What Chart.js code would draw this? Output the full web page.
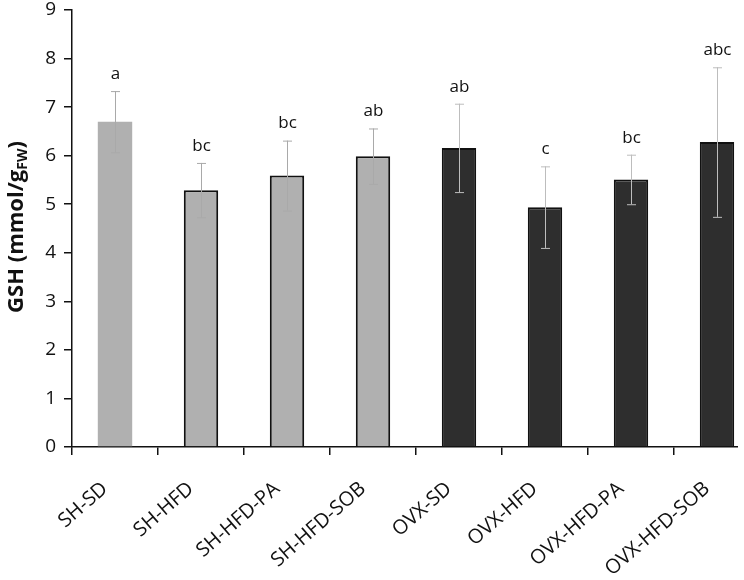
<!DOCTYPE html>
<html>
<head>
<meta charset="utf-8">
<script src="https://cdn.jsdelivr.net/npm/chart.js@4"></script>
<style>
  html, body { margin:0; padding:0; background:#fff; overflow:hidden; }
  #wrap { width:738px; height:580px; overflow:hidden; }
</style>
</head>
<body>
<div id="wrap"><canvas id="c" width="760" height="580"></canvas></div>
<script>
// GSH per group, mean ± SD, with significance letters
const groups  = ['SH-SD','SH-HFD','SH-HFD-PA','SH-HFD-SOB','OVX-SD','OVX-HFD','OVX-HFD-PA','OVX-HFD-SOB'];
const means   = [6.70, 5.29, 5.59, 5.99, 6.16, 4.94, 5.51, 6.28];
const sds     = [0.63, 0.56, 0.72, 0.57, 0.91, 0.84, 0.51, 1.54];
const letters = ['a','bc','bc','ab','ab','c','bc','abc'];
const yTicks  = [0,1,2,3,4,5,6,7,8,9];

const LIGHT = '#b0b0b0', DARK = '#2e2e2e';
const fills   = groups.map(g => g.startsWith('SH') ? LIGHT : DARK);
const borders = groups.map((g, i) => i === 0 ? LIGHT : '#111');
const bws     = groups.map((g, i) => i === 0 ? 0 : 2);

const FONT = '"Open Sans", "Liberation Sans", sans-serif';

// error bars + letters on top of bars
const errPlugin = {
  id: 'errbars',
  afterDatasetsDraw(chart) {
    const { ctx, scales: { x, y } } = chart;
    ctx.save();
    means.forEach((m, i) => {
      const cx = x.getPixelForValue(i);
      const top = y.getPixelForValue(m + sds[i]);
      const bot = y.getPixelForValue(m - sds[i]);
      ctx.strokeStyle = i < 4 ? '#a9a9a9' : '#bdbdbd';
      ctx.lineWidth = 1;
      ctx.beginPath();
      ctx.moveTo(cx + 0.5, top); ctx.lineTo(cx + 0.5, bot);
      ctx.moveTo(cx - 4, top + 0.5); ctx.lineTo(cx + 5, top + 0.5);
      ctx.moveTo(cx - 4, bot + 0.5); ctx.lineTo(cx + 5, bot + 0.5);
      ctx.stroke();
      ctx.fillStyle = '#111';
      ctx.font = '17px ' + FONT;
      ctx.textAlign = 'center';
      ctx.textBaseline = 'middle';
      ctx.fillText(letters[i], cx + 0.5, top - 17);
    });
    ctx.restore();
  }
};

// rotated y title with subscript
const titlePlugin = {
  id: 'ytitle',
  afterDraw(chart) {
    const { ctx } = chart;
    ctx.save();
    ctx.translate(23, 227);
    ctx.rotate(-Math.PI / 2);
    ctx.fillStyle = '#111';
    ctx.textBaseline = 'alphabetic';
    const big = 'bold 22px ' + FONT, small = 'bold 14px ' + FONT;
    const p1 = 'GSH (mmol/g', p2 = 'FW', p3 = ')';
    ctx.font = big;  const w1 = ctx.measureText(p1).width, w3 = ctx.measureText(p3).width;
    ctx.font = small; const w2 = ctx.measureText(p2).width;
    let xx = -(w1 + w2 + w3) / 2;
    ctx.font = big;  ctx.textAlign = 'left'; ctx.fillText(p1, xx, 0); xx += w1;
    ctx.font = small; ctx.fillText(p2, xx, 4); xx += w2;
    ctx.font = big;  ctx.fillText(p3, xx, 0);
    ctx.restore();
  }
};

new Chart(document.getElementById('c').getContext('2d'), {
  type: 'bar',
  data: {
    labels: groups,
    datasets: [{
      data: means,
      backgroundColor: fills,
      borderColor: borders,
      borderWidth: bws,
      barPercentage: 0.8,
      categoryPercentage: 0.5,
    }]
  },
  options: {
    responsive: false,
    animation: false,
    devicePixelRatio: 1,
    layout: { padding: { top: 0, right: 0, left: 0, bottom: 0 } },
    plugins: { legend: { display: false }, tooltip: { enabled: false } },
    scales: {
      y: {
        min: 0, max: 9,
        afterFit: s => { s.width = 72; s.paddingTop = 10; },
        afterBuildTicks: s => { s.ticks = yTicks.map(v => ({ value: v })); },
        border: { color: '#111', width: 1.5 },
        grid: { drawOnChartArea: false, tickLength: 8, color: '#111', lineWidth: 1.5 },
        ticks: { color: '#111', padding: 8, font: { family: FONT, size: 19 } },
      },
      x: {
        afterFit: s => { s.height = 133; },
        border: { color: '#111', width: 1.5 },
        grid: { drawOnChartArea: false, tickLength: 8, color: '#111', lineWidth: 1.5 },
        ticks: { color: '#111', minRotation: 41, maxRotation: 41, padding: 22, labelOffset: -10,
                 font: { family: FONT, size: 20 } },
      }
    }
  },
  plugins: [errPlugin, titlePlugin]
});
</script>
</body>
</html>
